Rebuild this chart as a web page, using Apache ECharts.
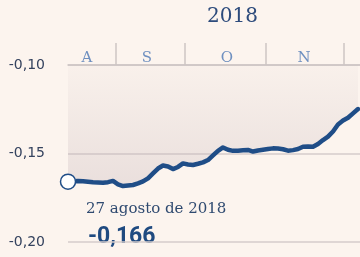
<!DOCTYPE html>
<html>
<head>
<meta charset="utf-8">
<script src="https://cdn.jsdelivr.net/npm/echarts@6/dist/echarts.min.js"></script>
<style>
html,body{margin:0;padding:0;background:#fcf4ee;}
#c{width:360px;height:257px;}
</style>
</head>
<body>
<div id="c"></div>
<script>
// ---- data ----
const titleYear = '2018';
const startLabel = '27 agosto de 2018';
// one reading every ~5px of the original line, starting 27 Aug 2018
const values = [
  -0.1659, -0.1657, -0.1655, -0.1657, -0.1660, -0.1663, -0.1664, -0.1665, -0.1662, -0.1655,
  -0.1674, -0.1684, -0.1681, -0.1678, -0.1669, -0.1658, -0.1640, -0.1612, -0.1585, -0.1568,
  -0.1573, -0.1588, -0.1576, -0.1556, -0.1562, -0.1565, -0.1558, -0.1550, -0.1537, -0.1511,
  -0.1485, -0.1466, -0.1479, -0.1485, -0.1484, -0.1482, -0.1480, -0.1489, -0.1483, -0.1479,
  -0.1475, -0.1471, -0.1472, -0.1476, -0.1484, -0.1481, -0.1475, -0.1462, -0.1460, -0.1462,
  -0.1446, -0.1424, -0.1405, -0.1376, -0.1336, -0.1314, -0.1298, -0.1273, -0.1249
];
const monthLetters = ['A', 'S', 'O', 'N'];
const monthLabelPos = [3.8, 15.8, 31.8, 47.2];
const monthBoundaries = [9.46, 23.34, 39.54, 55.06];
const yTicks = [-0.20, -0.15, -0.10];

const fmt = v => v.toFixed(2).replace('.', ',');
const fmt3 = v => v.toFixed(3).replace('.', ',');

const seriesData = values.map((v, i) => i === 0
  ? { value: [i, v], symbol: 'circle', symbolSize: 15,
      itemStyle: { color: '#ffffff', borderColor: '#1f4d87', borderWidth: 1.5 } }
  : { value: [i, v] });

const chart = echarts.init(document.getElementById('c'), null, { renderer: 'canvas' });
chart.setOption({
  backgroundColor: '#fcf4ee',
  animation: false,
  grid: { left: 68, right: 0, top: 65, bottom: 15, containLabel: false },
  xAxis: {
    type: 'value', position: 'top', min: 0, max: 58.4,
    axisLine: { show: true, onZero: false, lineStyle: { color: '#cdc5c4', width: 1.5 } },
    axisTick: { show: true, customValues: monthBoundaries, length: 22,
      lineStyle: { color: '#cdc5c4', width: 1.5 } },
    axisLabel: {
      customValues: monthLabelPos,
      formatter: v => { const k = monthLabelPos.findIndex(p => Math.abs(p - v) < 1e-6); return k >= 0 ? monthLetters[k] : ''; },
      color: '#6f90c0', fontFamily: 'DejaVu Serif', fontSize: 15, margin: -1
    },
    splitLine: { show: false }
  },
  yAxis: {
    type: 'value', min: yTicks[0], max: yTicks[2], interval: 0.05,
    axisLine: { show: false }, axisTick: { show: false },
    axisLabel: { formatter: v => fmt(v), color: '#34425e', fontFamily: 'DejaVu Sans', fontSize: 14, margin: 23 },
    splitLine: { show: true, lineStyle: { color: '#d6cdcb', width: 1.5 } }
  },
  graphic: [
    { type: 'text', left: 207, top: 7,
      style: { text: titleYear, font: '20px "DejaVu Serif"', fill: '#2d4b7c' } },
    { type: 'text', left: 86, top: 202,
      style: { text: startLabel, font: '15px "DejaVu Serif"', fill: '#2f4a70' } },
    { type: 'text', left: 76, top: 226,
      style: { text: fmt3(values[0]), font: 'bold 23px Roboto', fill: '#1f4a80',
        backgroundColor: '#fcf4ee', padding: [0, 47, 0, 12] } }
  ],
  series: [{
    type: 'line',
    data: seriesData,
    symbol: 'none',
    showSymbol: true,
    clip: false,
    lineStyle: { color: '#1f4d87', width: 4.5, join: 'round', cap: 'round' },
    areaStyle: {
      origin: 'end',
      color: new echarts.graphic.LinearGradient(0, 0, 0, 1, [
        { offset: 0, color: 'rgba(195,180,185,0.08)' },
        { offset: 1, color: 'rgba(195,178,183,0.45)' }
      ])
    },
    z: 3
  }]
});
</script>
</body>
</html>
